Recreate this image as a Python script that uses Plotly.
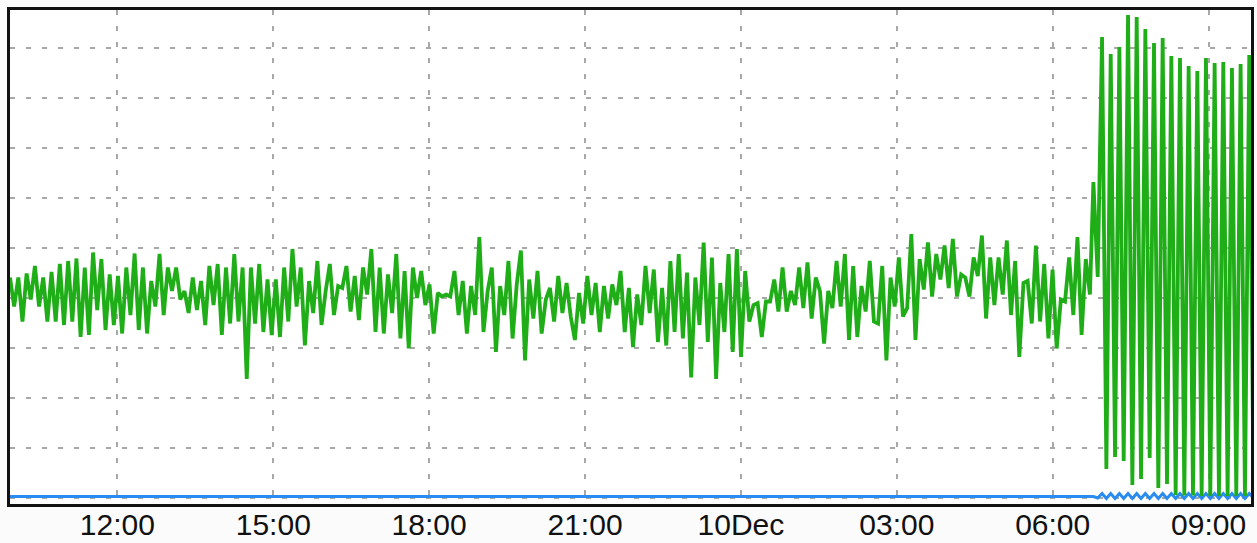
import pandas as pd
import plotly.graph_objects as go

# ---------------- data ----------------
# green series, irregular phase (Dec 9 09:56 -> Dec 10 06:43)
green_pre = [
    4.41,3.83,4.41,3.53,4.49,3.97,4.64,3.83,4.41,3.53,4.52,3.53,4.68,3.46,4.74,3.53,4.79,3.22,4.61,3.26,
    4.91,3.76,4.78,3.36,4.47,3.46,4.44,3.29,4.61,3.66,4.89,3.36,4.61,3.29,4.34,3.83,4.88,3.66,4.61,4.14,
    4.61,3.97,4.14,3.70,4.41,3.76,4.34,3.46,4.64,3.86,
    4.68,3.26,4.61,3.49,4.88,3.53,4.61,2.38,4.61,3.49,4.68,3.32,4.37,3.26,4.37,3.22,4.61,3.53,4.98,3.83,
    4.61,3.05,4.34,3.70,4.74,3.46,4.14,4.68,3.66,4.24,4.20,4.64,3.73,4.44,3.56,4.61,4.07,4.98,3.32,4.61,
    3.29,4.47,3.70,4.88,3.19,4.54,2.99,4.61,4.00,4.54,3.86,
    4.27,3.29,4.10,4.03,4.07,4.03,4.54,3.66,4.34,3.29,4.24,3.66,5.22,3.32,4.14,4.61,2.92,4.24,3.66,4.74,
    3.19,4.27,4.95,2.75,4.37,3.59,4.54,3.29,3.97,4.20,3.53,4.44,3.70,4.30,3.63,3.16,4.10,3.49,4.44,3.66,
    4.30,3.32,4.24,3.59,4.27,3.86,4.54,3.32,4.20,3.02,4.07,3.46,4.64,3.70,
    4.57,3.12,4.20,3.05,4.74,3.32,4.88,3.19,4.51,2.41,4.41,3.46,5.11,3.12,4.81,2.38,4.30,3.32,4.88,2.92,
    4.98,2.82,4.54,3.53,3.86,3.90,3.22,3.93,3.93,4.37,3.73,4.61,3.73,4.14,3.86,4.61,3.80,4.71,3.59,4.41,
    4.14,3.09,4.14,3.80,4.74,3.83,4.88,3.16,4.64,3.22,4.24,3.73,
    4.74,3.53,3.49,4.64,2.75,4.41,3.83,4.81,3.63,3.80,5.28,3.16,4.78,4.17,5.11,4.03,4.88,4.37,5.05,4.20,
    5.18,4.03,4.47,4.41,4.03,4.81,4.44,5.25,3.59,4.81,3.86,4.81,4.07,5.15,3.66,4.74,2.82,4.30,4.34,3.49,
    5.05,3.53,4.68,3.19,4.57,2.99,3.97,3.93,4.81,3.66,5.22,3.26,4.78,4.07,
]
green_pre_start = "2023-12-09 09:56"
green_pre_end = "2023-12-10 06:43"

# green series, oscillating phase (5-minute samples from Dec 10 06:47)
green_post = [
    6.32,4.42,9.22,0.58,8.88,0.82,9.02,0.74,9.66,0.26,9.62,0.38,9.38,0.80,9.10,0.20,9.20,0.28,8.84,0.06,
    8.80,0.05,8.64,0.05,8.54,0.04,8.80,0.04,8.70,0.04,8.72,0.04,8.60,0.04,8.68,0.04,8.86,0.10,
]
green_post_start = "2023-12-10 06:47"

# blue series
blue_pre = [0.03,0.03,0.03,0.03,0.03,0.03,0.03,0.03,0.03,0.03,0.03,0.03]
blue_pre_start = "2023-12-09 09:00"
blue_pre_end = "2023-12-10 06:42"
blue_post = [
    0.03,0.00,0.09,-0.01,0.09,-0.01,0.09,-0.01,0.09,-0.01,0.09,-0.01,0.09,-0.01,0.09,-0.01,0.09,-0.01,
    0.09,-0.01,0.09,-0.01,0.09,-0.01,0.09,-0.01,0.09,-0.01,0.09,-0.01,0.09,-0.01,0.09,-0.01,0.09,-0.01,
    0.09,0.00,
]
blue_post_start = "2023-12-10 06:47"

tick_vals = ["2023-12-09 12:00","2023-12-09 15:00","2023-12-09 18:00","2023-12-09 21:00",
             "2023-12-10 00:00","2023-12-10 03:00","2023-12-10 06:00","2023-12-10 09:00"]
tick_text = ["12:00","15:00","18:00","21:00","10Dec","03:00","06:00","09:00"]

x_range = ["2023-12-09 09:56", "2023-12-10 09:49"]
y_range = [-0.12, 9.76]

# ---------------- build ----------------
g_t = list(pd.date_range(green_pre_start, green_pre_end, periods=len(green_pre))) + \
      list(pd.date_range(green_post_start, periods=len(green_post), freq="5min"))
g_v = green_pre + green_post

b_t = list(pd.date_range(blue_pre_start, blue_pre_end, periods=len(blue_pre))) + \
      list(pd.date_range(blue_post_start, periods=len(blue_post), freq="5min"))
b_v = blue_pre + blue_post

fig = go.Figure()
fig.add_trace(go.Scatter(x=b_t, y=b_v, mode="lines",
                         line=dict(color="#2a8cf0", width=3), showlegend=False))
fig.add_trace(go.Scatter(x=g_t, y=g_v, mode="lines",
                         line=dict(color="#1fae17", width=3.8), showlegend=False))

grid_style = dict(showgrid=True, gridcolor="#a8a8a8", gridwidth=2, griddash="5px,11px")
fig.update_layout(
    width=1257, height=543,
    margin=dict(l=10, r=6, t=10, b=39, autoexpand=False),
    paper_bgcolor="#fbfbfb", plot_bgcolor="#ffffff",
    showlegend=False,
    xaxis=dict(type="date", range=x_range, tickvals=tick_vals, ticktext=tick_text,
               ticks="", automargin=False, ticklabelstandoff=-8,
               tickfont=dict(family="Liberation Sans, Arial, sans-serif", size=30, color="#111111"),
               showline=True, mirror=True, linecolor="#111111", linewidth=3,
               zeroline=False, **grid_style),
    yaxis=dict(range=y_range, dtick=1, tick0=0, showticklabels=False, ticks="", automargin=False,
               showline=True, mirror=True, linecolor="#111111", linewidth=3,
               zeroline=False, **grid_style),
)

fig.write_html("out.html", config={"displayModeBar": False},
               post_script="document.body.style.margin='0';document.body.style.overflow='hidden';")
